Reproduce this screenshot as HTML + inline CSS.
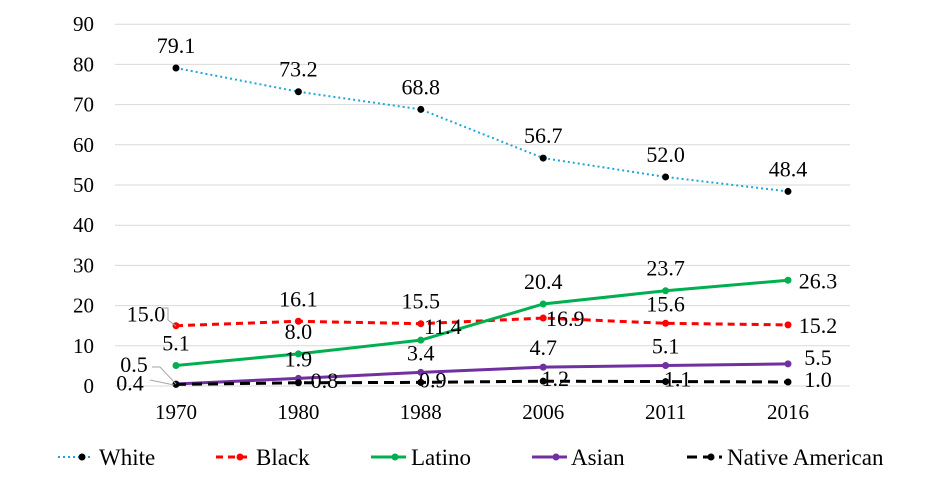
<!DOCTYPE html>
<html><head><meta charset="utf-8"><style>
body{margin:0;background:#fff}
svg text{font-family:"Liberation Serif",serif;font-size:22px;fill:#000}
svg text.tick{font-size:21px}
svg text.leg{font-size:23px}
</style></head><body>
<svg id="c" width="943" height="494"></svg>
<script>
const categories=["1970","1980","1988","2006","2011","2016"];
const yTicks=[0,10,20,30,40,50,60,70,80,90];
const white=[79.1,73.2,68.8,56.7,52.0,48.4];
const black=[15.0,16.1,15.5,16.9,15.6,15.2];
const latino=[5.1,8.0,11.4,20.4,23.7,26.3];
const asian=[0.5,1.9,3.4,4.7,5.1,5.5];
const native=[0.4,0.8,0.9,1.2,1.1,1.0];
const seriesNames=["White","Black","Latino","Asian","Native American"];

const svg=document.getElementById('c');const NS="http://www.w3.org/2000/svg";
function el(t,a,p){const e=document.createElementNS(NS,t);for(const k in a)e.setAttribute(k,a[k]);(p||svg).appendChild(e);return e;}
const x=i=>176+i*122.4;
const y=v=>386-v*4.02;
yTicks.forEach(t=>{
 const g=el('line',{x1:115,x2:850,y1:y(t),y2:y(t),stroke:'#d9d9d9','stroke-width':1});
 
 
 const tx=el('text',{x:94,y:y(t)+7,'text-anchor':'end','class':'tick'});tx.textContent=t;
 
 
});
categories.forEach((c,i)=>{
 const tx=el('text',{x:x(i),y:419,'text-anchor':'middle','class':'tick'});tx.textContent=c;
 
 
});
const specs=[
 {d:white,col:'#1fa6d8',dash:'2,3',w:2,off:[[0,-23],[0,-23],[0,-23],[0,-23],[0,-23],[0,-23]]},
 {d:black,col:'#ff0000',dash:'7,5',w:3,off:[[-30,-12],[0,-23],[0,-23],[22,0],[0,-20],[30,0]]},
 {d:latino,col:'#00b050',dash:'',w:3,off:[[0,-23],[0,-23],[22,-14],[0,-23],[0,-23],[30,0]]},
 {d:asian,col:'#7030a0',dash:'',w:3,off:[[-42,-20],[0,-20],[0,-20],[0,-20],[0,-20],[30,-7]]},
 {d:native,col:'#000000',dash:'10,6',w:3,off:[[-46,-2],[26,-3],[12,-3],[12,-3],[12,-3],[30,-3]]}
];
specs.forEach((s,si)=>{
 const pl=el('polyline',{points:s.d.map((v,i)=>x(i)+','+y(v)).join(' '),fill:'none',stroke:s.col,'stroke-width':s.w,'stroke-dasharray':s.dash});
 
 
 s.d.forEach((v,i)=>{
  const c=el('circle',{cx:x(i),cy:y(v),r:3.5,fill:si===0?'#000':s.col});
  
  
  const t=el('text',{x:x(i)+s.off[i][0],y:y(v)+s.off[i][1]+8,'text-anchor':'middle'});
  t.textContent=v.toFixed(1);
  
  
 });
});
el('polyline',{points:'161,308 168,308 168,320 176,326',fill:'none',stroke:'#a6a6a6','stroke-width':1});
el('polyline',{points:'152,367 160,367 176,384',fill:'none',stroke:'#a6a6a6','stroke-width':1});
el('polyline',{points:'150,380 174,385',fill:'none',stroke:'#a6a6a6','stroke-width':1});
const lx=[58,216,371,532,687];
const tx0=[99,256,411,571,727];
specs.forEach((s,si)=>{
 const g=el('g',{});
 
 
 el('line',{x1:lx[si],x2:lx[si]+35,y1:457,y2:457,stroke:s.col,'stroke-width':s.w,'stroke-dasharray':s.dash},g);
 el('circle',{cx:lx[si]+24,cy:457,r:3.5,fill:si===0?'#000':s.col},g);
 const t=el('text',{x:tx0[si],y:465,'class':'leg'},g);t.textContent=seriesNames[si];
});
</script>
</body></html>
